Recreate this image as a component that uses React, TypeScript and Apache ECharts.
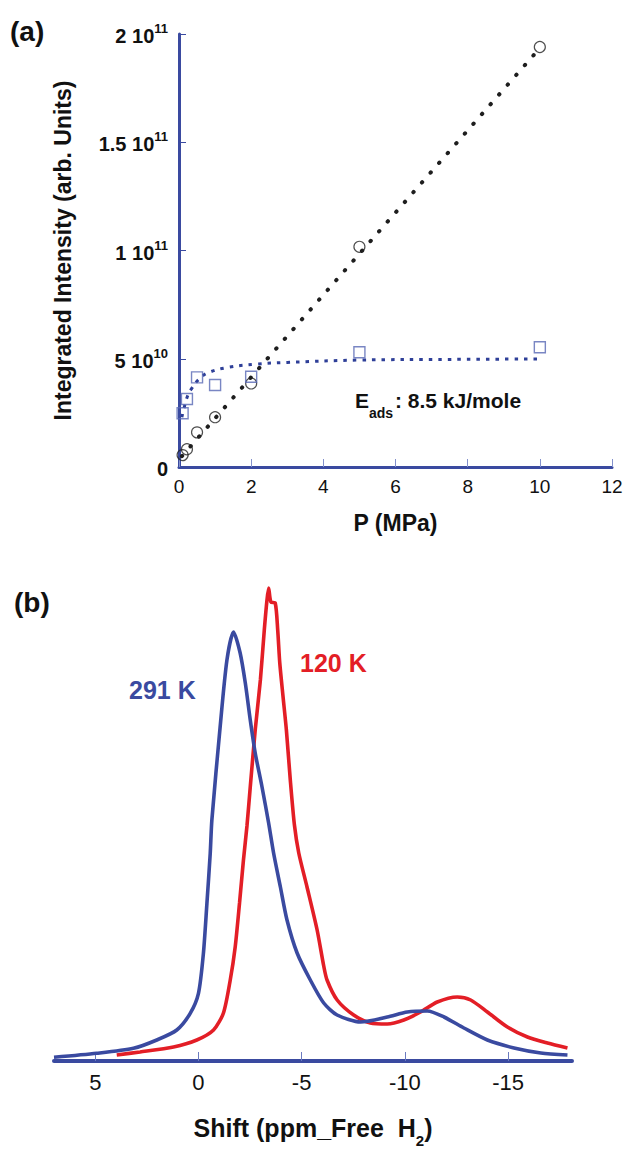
import React, { useEffect, useRef } from "react";
import * as echarts from "echarts";

// ---------- Panel (a) data ----------
const pressureMPa = [0.1, 0.22, 0.5, 1, 2, 5, 10];
const circleIntensity = [0.55e10, 0.82e10, 1.6e10, 2.3e10, 3.86e10, 10.17e10, 19.4e10];
const squareIntensity = [2.48e10, 3.14e10, 4.14e10, 3.79e10, 4.17e10, 5.3e10, 5.53e10];
const linearFitX = [0.08, 10];
const linearFitY = [0.5e10, 19.35e10];
const langmuirFitX = [0.08, 0.22, 0.34, 0.55, 0.8, 1.36, 2.13, 3, 5, 7.5, 10];
const langmuirFitY = [2.3e10, 3.2e10, 3.6e10, 4.05e10, 4.35e10, 4.6e10, 4.75e10, 4.83e10, 4.94e10, 4.97e10, 4.99e10];
const yTickValues = [0, 5e10, 1e11, 1.5e11, 2e11];
const yTickMantissa = ["0", "5 10", "1 10", "1.5 10", "2 10"];
const yTickExponent = ["", "10", "11", "11", "11"];
const xTickLabelsA = [0, 2, 4, 6, 8, 10, 12];

// ---------- Panel (b) data ----------
const shift291 = [7.0, 4.93, 3.15, 2.02, 1.05, 0.4, 0, -0.24, -0.41, -0.57, -0.65, -1.05, -1.38, -1.7, -2.02, -2.27, -2.51, -2.75, -3.08, -3.4, -3.64, -3.97, -4.29, -4.78, -5.42, -6.07, -6.72, -7.85, -9.15, -10.12, -11.09, -11.9, -12.86, -14.0, -15.29, -16.59, -17.88];
const int291 = [3.7, 7.7, 12.7, 21, 31, 47.7, 67.7, 107.7, 157.7, 207.7, 241, 334, 401, 429, 408, 378, 341, 308, 274, 238, 208, 174, 141, 108, 81, 58, 46, 39, 44, 49, 50, 44, 33, 21, 13, 8, 6];
const shift120 = [3.96, 2.83, 1.21, 0.08, -0.73, -1.21, -1.54, -1.78, -1.99, -2.18, -2.35, -2.51, -2.75, -3.0, -3.19, -3.32, -3.4, -3.51, -3.72, -3.84, -3.94, -4.1, -4.26, -4.45, -4.65, -4.86, -5.26, -5.75, -6.07, -6.23, -6.72, -7.52, -8.33, -9.15, -9.95, -10.76, -11.57, -12.54, -13.19, -14.0, -14.97, -15.94, -16.91, -17.88];
const int120 = [6, 9, 14, 21, 31, 48, 81, 114, 158, 201, 235, 274, 331, 381, 431, 461, 473, 459, 458, 431, 398, 364, 331, 281, 236, 208, 174, 131, 95, 81, 61, 46, 38, 37, 41, 49, 59, 64, 61, 49, 34, 24, 18, 13];
const xTickLabelsB = [5, 0, -5, -10, -15];

const BLUE = "#3a4aa0";
const RED = "#e31e26";
const FONT = '"Liberation Sans", Arial, Helvetica, sans-serif';

const zip = (xs: number[], ys: number[]) => xs.map((x, i) => [x, ys[i]]);

export default function App() {
  const ref = useRef<HTMLDivElement>(null);
  useEffect(() => {
    if (!ref.current) return;
    const chart = echarts.init(ref.current, undefined, { renderer: "svg" });
    const option: any = {
      animation: false,
      textStyle: { fontFamily: FONT },
      grid: [
        { left: 179, right: 14, top: 34, height: 433 },
        { left: 54, width: 518, top: 581, height: 480 },
      ],
      xAxis: [
        {
          gridIndex: 0,
          type: "value",
          min: 0,
          max: 12,
          interval: 2,
          axisLine: { lineStyle: { color: BLUE, width: 3 } },
          axisTick: { inside: true, length: 8, lineStyle: { color: "#8391cc", width: 1 }, customValues: xTickLabelsA },
          axisLabel: { color: "#111", fontSize: 19, margin: 10, fontFamily: FONT, customValues: xTickLabelsA },
          splitLine: { show: false },
          name: "P (MPa)",
          nameLocation: "middle",
          nameGap: 44,
          nameTextStyle: { fontSize: 23, fontWeight: "bold", color: "#111", fontFamily: FONT },
        },
        {
          gridIndex: 1,
          type: "value",
          inverse: true,
          min: -18.1,
          max: 7,
          axisLine: { lineStyle: { color: BLUE, width: 4 } },
          axisTick: { inside: true, length: 9, lineStyle: { color: "#6c7bc0", width: 1 }, customValues: xTickLabelsB },
          axisLabel: { color: "#111", fontSize: 22, margin: 10, fontFamily: FONT, customValues: xTickLabelsB },
          splitLine: { show: false },
          name: "{t|Shift (ppm_Free\u00a0\u00a0H}{s|2}{t|)}",
          nameLocation: "middle",
          nameGap: 54,
          nameTextStyle: {
            color: "#111",
            rich: {
              t: { fontSize: 25, fontWeight: "bold", color: "#111", fontFamily: FONT, lineHeight: 28, verticalAlign: "top" },
              s: { fontSize: 15, fontWeight: "bold", color: "#111", fontFamily: FONT, lineHeight: 33, verticalAlign: "bottom" },
            },
          },
        },
      ],
      yAxis: [
        {
          gridIndex: 0,
          type: "value",
          min: 0,
          max: 2e11,
          interval: 5e10,
          axisLine: { show: true, lineStyle: { color: BLUE, width: 3 } },
          axisTick: { show: true, inside: true, length: 7, lineStyle: { color: BLUE, width: 1 } },
          splitLine: { show: false },
          axisLabel: {
            margin: 11,
            formatter: (v: number) => {
              const i = yTickValues.findIndex((t) => Math.abs(t - v) < 1);
              if (i < 0) return "";
              return yTickExponent[i] ? `{b|${yTickMantissa[i]}}{s|${yTickExponent[i]}}` : `{b|${yTickMantissa[i]}}`;
            },
            rich: {
              b: { fontSize: 20, fontWeight: "bold", color: "#111", fontFamily: FONT, lineHeight: 24, verticalAlign: "bottom" },
              s: { fontSize: 13, fontWeight: "bold", color: "#111", fontFamily: FONT, lineHeight: 14, verticalAlign: "top" },
            },
          },
          name: "Integrated Intensity (arb. Units)",
          nameLocation: "middle",
          nameRotate: 90,
          nameGap: 105,
          nameTextStyle: { fontSize: 23, fontWeight: "bold", color: "#111", fontFamily: FONT },
        },
        { gridIndex: 1, type: "value", min: 0, max: 480, show: false, splitLine: { show: false } },
      ],
      series: [
        {
          type: "line",
          xAxisIndex: 0,
          yAxisIndex: 0,
          data: zip(linearFitX, linearFitY),
          showSymbol: false,
          lineStyle: { color: "#1e1e1e", width: 4, type: [0.5, 12.5], cap: "round" },
          z: 3,
        },
        {
          type: "line",
          xAxisIndex: 0,
          yAxisIndex: 0,
          data: zip(langmuirFitX, langmuirFitY),
          showSymbol: false,
          smooth: 0.4,
          lineStyle: { color: "#2e3f98", width: 3, type: [3.5, 6] },
          z: 3,
        },
        {
          type: "scatter",
          xAxisIndex: 0,
          yAxisIndex: 0,
          data: zip(pressureMPa, circleIntensity),
          symbol: "circle",
          symbolSize: 11,
          itemStyle: { color: "rgba(255,255,255,0)", borderColor: "#222", borderWidth: 1.2 },
          z: 4,
        },
        {
          type: "scatter",
          xAxisIndex: 0,
          yAxisIndex: 0,
          data: zip(pressureMPa, squareIntensity),
          symbol: "rect",
          symbolSize: 11,
          itemStyle: { color: "rgba(255,255,255,0)", borderColor: "#5868b4", borderWidth: 1.4 },
          z: 4,
        },
        {
          type: "line",
          name: "291 K",
          xAxisIndex: 1,
          yAxisIndex: 1,
          data: zip(shift291, int291),
          showSymbol: false,
          smooth: 0.25,
          lineStyle: { color: BLUE, width: 3.6 },
          z: 3,
        },
        {
          type: "line",
          name: "120 K",
          xAxisIndex: 1,
          yAxisIndex: 1,
          data: zip(shift120, int120),
          showSymbol: false,
          smooth: 0.25,
          lineStyle: { color: RED, width: 3.6 },
          z: 2,
        },
      ],
      graphic: [
        { type: "text", left: 10, top: 17, style: { text: "(a)", font: `bold 28px ${FONT}`, fill: "#111" } },
        { type: "text", left: 14, top: 588, style: { text: "(b)", font: `bold 28px ${FONT}`, fill: "#111" } },
        { type: "text", x: 355, y: 400, style: { text: "E", font: `bold 21px ${FONT}`, fill: "#111", verticalAlign: "middle" } },
        { type: "text", x: 369, y: 413, style: { text: "ads", font: `bold 14px ${FONT}`, fill: "#111", verticalAlign: "middle" } },
        { type: "text", x: 395, y: 400, style: { text: ": 8.5 kJ/mole", font: `bold 21px ${FONT}`, fill: "#111", verticalAlign: "middle" } },
        { type: "text", x: 129, y: 690, style: { text: "291 K", font: `bold 25px ${FONT}`, fill: BLUE, verticalAlign: "middle" } },
        { type: "text", x: 300, y: 663, style: { text: "120 K", font: `bold 25px ${FONT}`, fill: RED, verticalAlign: "middle" } },
      ],
    };
    chart.setOption(option);
    return () => chart.dispose();
  }, []);
  return <div ref={ref} style={{ position: "absolute", left: 0, top: 0, width: 626, height: 1151, background: "#fff" }} />;
}
